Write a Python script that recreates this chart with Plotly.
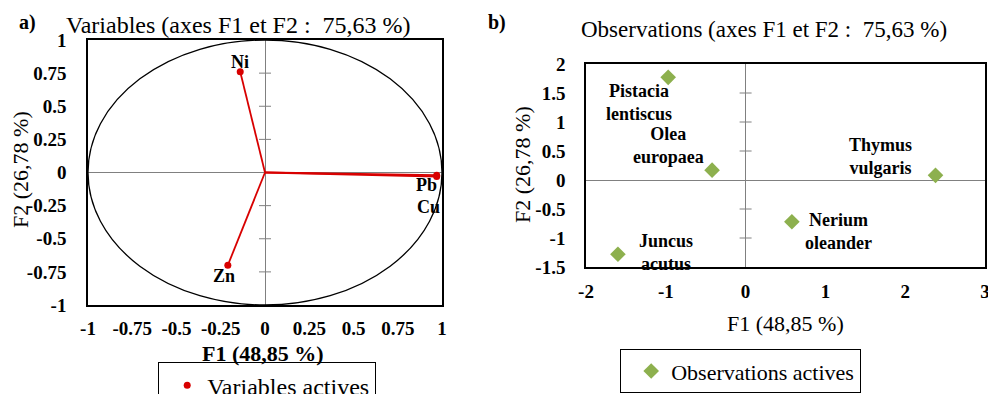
import plotly.graph_objects as go

# ---- data ----------------------------------------------------------------
# a) variable loadings on F1 / F2
var_names = ["Ni", "Pb", "Cu", "Zn"]
var_f1 = [-0.14, 0.97, 0.97, -0.21]
var_f2 = [0.76, -0.02, -0.03, -0.70]

# b) observation scores on F1 / F2
obs_names = ["Pistacia<br>lentiscus", "Olea<br>europaea", "Thymus<br>vulgaris",
             "Nerium<br>oleander", "Juncus<br>acutus"]
obs_f1 = [-0.97, -0.42, 2.38, 0.58, -1.60]
obs_f2 = [1.77, 0.17, 0.08, -0.72, -1.28]

# tick values / labels
a_ticks = [-1, -0.75, -0.5, -0.25, 0, 0.25, 0.5, 0.75, 1]
a_ticktext = ["-1", "-0.75", "-0.5", "-0.25", "0", "0.25", "0.5", "0.75", "1"]
b_xticks = [-2, -1, 0, 1, 2, 3]
b_xticktext = ["-2", "-1", "0", "1", "2", "3"]
b_yticks = [-1.5, -1, -0.5, 0, 0.5, 1, 1.5, 2]
b_yticktext = ["-1.5", "-1", "-0.5", "0", "0.5", "1", "1.5", "2"]

# ---- styling --------------------------------------------------------------
SERIF = "Liberation Serif"
RED = "#d80000"
GREEN = "#8db04e"
W, H = 988, 394

fig = go.Figure()

# variable vectors from the origin
for name, x, y in zip(var_names, var_f1, var_f2):
    fig.add_trace(go.Scatter(x=[0, x], y=[0, y], mode="lines",
                             line=dict(color=RED, width=1.8),
                             showlegend=False, hoverinfo="skip",
                             xaxis="x", yaxis="y"))
fig.add_trace(go.Scatter(x=var_f1, y=var_f2, mode="markers", name="Variables actives",
                         marker=dict(color=RED, size=7), text=var_names,
                         xaxis="x", yaxis="y", legend="legend"))

# observations
fig.add_trace(go.Scatter(x=obs_f1, y=obs_f2, mode="markers", name="Observations actives",
                         marker=dict(color=GREEN, size=12, symbol="diamond"),
                         text=obs_names, xaxis="x2", yaxis="y2", legend="legend2"))

# pixel offsets of the point labels
var_label_shift = {"Ni": (0, 10), "Pb": (-10, -10), "Cu": (-8, -31), "Zn": (-4, -11)}
obs_label_shift = [(-29, -25), (-44, 25), (-55, 19), (47, -10), (48, 2)]

annotations = []
for name, x, y in zip(var_names, var_f1, var_f2):
    dx, dy = var_label_shift[name]
    annotations.append(dict(x=x, y=y, xref="x", yref="y", text=name, showarrow=False,
                            xshift=dx, yshift=dy,
                            font=dict(family=SERIF, size=18, color="black", weight="bold")))
for name, x, y, (dx, dy) in zip(obs_names, obs_f1, obs_f2, obs_label_shift):
    annotations.append(dict(x=x, y=y, xref="x2", yref="y2", text=name, showarrow=False,
                            xshift=dx, yshift=dy, align="center",
                            font=dict(family=SERIF, size=18, color="black", weight="bold")))


def px(xpix, ypix):
    return xpix / W, 1 - ypix / H


def paper_text(text, xpix, ypix, size, bold=False, angle=0):
    x, y = px(xpix, ypix)
    annotations.append(dict(x=x, y=y, xref="paper", yref="paper", text=text,
                            showarrow=False, xanchor="center", yanchor="middle",
                            textangle=angle,
                            font=dict(family=SERIF, size=size, color="black",
                                      weight="bold" if bold else "normal")))


paper_text("a)", 27, 22, 20, bold=True)
paper_text("Variables (axes F1 et F2 :  75,63 %)", 238, 25, 24)
paper_text("F1 (48,85 %)", 263, 353, 22, bold=True)
paper_text("F2 (26,78 %)", 20, 170, 22, angle=-90)

paper_text("b)", 497, 22, 20, bold=True)
paper_text("Observations (axes F1 et F2 :  75,63 %)", 764, 29, 23)
paper_text("F1 (48,85 %)", 785, 323, 22)
paper_text("F2 (26,78 %)", 522, 165, 22, angle=-90)

# correlation circle
shapes = [dict(type="circle", xref="x", yref="y", x0=-1, x1=1, y0=-1, y1=1,
               line=dict(color="black", width=1.3), layer="above")]

# small tick dashes on the vertical zero lines
for v in a_ticks:
    if abs(v) not in (0, 1):
        shapes.append(dict(type="line", xref="x", yref="y", xsizemode="pixel",
                           xanchor=0, x0=-6, x1=6, y0=v, y1=v,
                           line=dict(color="#808080", width=1)))
for v in b_yticks:
    if v not in (0, b_yticks[0], b_yticks[-1]):
        shapes.append(dict(type="line", xref="x2", yref="y2", xsizemode="pixel",
                           xanchor=0, x0=-6, x1=6, y0=v, y1=v,
                           line=dict(color="#808080", width=1)))

tickfont = dict(family=SERIF, size=19, color="black", weight="bold")
axis_common = dict(showgrid=False, showline=True, mirror=True, linecolor="black",
                   linewidth=1.5, ticks="", zeroline=True, zerolinecolor="#808080",
                   zerolinewidth=1, tickfont=tickfont, tickmode="array",
                   ticklabeloverflow="allow")

fig.update_layout(
    width=W, height=H, margin=dict(l=0, r=0, t=0, b=0, autoexpand=False),
    paper_bgcolor="white", plot_bgcolor="white",
    font=dict(family=SERIF, color="black"),
    xaxis=dict(domain=[88 / W, 442 / W], range=[-1, 1], tickvals=a_ticks,
               ticktext=a_ticktext, anchor="y", ticklabelstandoff=5, **axis_common),
    yaxis=dict(domain=[1 - 305 / H, 1 - 40 / H], range=[-1, 1], tickvals=a_ticks,
               ticktext=a_ticktext, anchor="x", ticklabelstandoff=16, **axis_common),
    xaxis2=dict(domain=[586 / W, 985 / W], range=[-2, 3], tickvals=b_xticks,
                ticktext=b_xticktext, anchor="y2", ticklabelstandoff=6, **axis_common),
    yaxis2=dict(domain=[1 - 267 / H, 1 - 64 / H], range=[-1.5, 2], tickvals=b_yticks,
                ticktext=b_yticktext, anchor="x2", ticklabelstandoff=15, **axis_common),
    legend=dict(x=158 / W, y=1 - 362 / H, xanchor="left", yanchor="top",
                bordercolor="black", borderwidth=1.2, bgcolor="white", indentation=8,
                font=dict(family=SERIF, size=24, color="black"), itemwidth=30),
    legend2=dict(x=620 / W, y=1 - 393 / H, xanchor="left", yanchor="bottom",
                 bordercolor="black", borderwidth=1.2, bgcolor="white", indentation=10,
                 font=dict(family=SERIF, size=22, color="black"), itemwidth=30),
    annotations=annotations,
    shapes=shapes,
)

fig.write_html("out.html")
